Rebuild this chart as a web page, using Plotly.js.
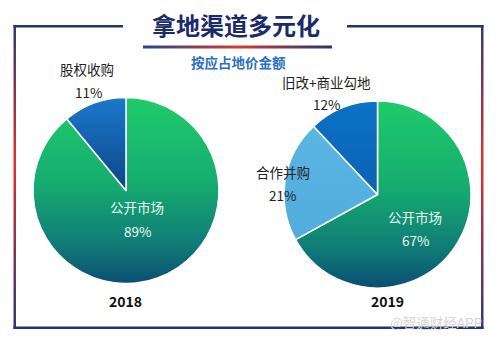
<!DOCTYPE html>
<html><head><meta charset="utf-8">
<script src="https://cdn.plot.ly/plotly-3.0.1.min.js"></script>
<style>html,body{margin:0;padding:0;background:#fff;overflow:hidden}</style></head>
<body>
<div id="chart" style="width:498px;height:341px"></div>
<script>
// ---- data ----
const labels2018 = ['公开市场', '股权收购'];
const values2018 = [89, 11];
const labels2019 = ['公开市场', '合作并购', '旧改+商业勾地'];
const values2019 = [67, 21, 12];
const yearLabels = ['2018', '2019'];
const titleText = '拿地渠道多元化';
const subtitleText = '按应占地价金额';
const watermarkText = '@智通财经APP';

// ---- helpers (layout only) ----
const W = 498, H = 341;
const px = x => x / W;
const py = y => 1 - y / H;
const FONT = '"Noto Sans CJK SC", "Noto Sans", sans-serif';

function pct(v, arr) {
  const tot = arr.reduce((a, b) => a + b, 0);
  return Math.round(v / tot * 100) + '%';
}

const pie2018 = {
  type: 'pie', labels: labels2018, values: values2018, sort: false,
  direction: 'clockwise', rotation: 0, textinfo: 'none', hoverinfo: 'none',
  marker: {colors: ['#17a872', '#1565b0'], line: {color: '#ffffff', width: 1.5}},
  domain: {x: [px(33), px(219)], y: [py(284), py(97)]}, showlegend: false
};
const pie2019 = {
  type: 'pie', labels: labels2019, values: values2019, sort: false,
  direction: 'clockwise', rotation: 0, textinfo: 'none', hoverinfo: 'none',
  marker: {colors: ['#17a872', '#5ab4e2', '#0a70c4'], line: {color: '#ffffff', width: 1.5}},
  domain: {x: [px(284), px(471)], y: [py(288), py(101)]}, showlegend: false
};

function ann(x, y, text, size, color, bold) {
  return {x: px(x), y: py(y), xref: 'paper', yref: 'paper', text: bold ? '<b>' + text + '</b>' : text,
    showarrow: false, xanchor: 'center', yanchor: 'middle',
    font: {family: FONT, size: size, color: color}};
}

const annotations = [
  ann(236, 24, titleText, 24, '#1b2a6b', true),
  ann(238, 62, subtitleText, 13.5, '#2a6fc0', true),
  // 2018
  ann(87, 69, labels2018[1], 13.5, '#222222'),
  ann(88, 92, pct(values2018[1], values2018), 13.5, '#222222'),
  ann(137, 207, labels2018[0], 13.5, '#eafaf0'),
  ann(137, 231, pct(values2018[0], values2018), 13.5, '#eafaf0'),
  ann(125, 301, yearLabels[0], 14, '#111111', true),
  // 2019
  ann(326, 82, labels2019[2], 13.5, '#222222'),
  ann(326, 104, pct(values2019[2], values2019), 13.5, '#222222'),
  ann(283, 172, labels2019[1], 13.5, '#222222'),
  ann(282, 195, pct(values2019[1], values2019), 13.5, '#222222'),
  ann(415, 217, labels2019[0], 13.5, '#eafaf0'),
  ann(415, 240, pct(values2019[0], values2019), 13.5, '#eafaf0'),
  ann(387, 301, yearLabels[1], 14, '#111111', true),
  ann(436, 322, watermarkText, 13.5, '#d4d4d4')
];

function rect(x0, y0, x1, y1, color) {
  return {type: 'rect', xref: 'paper', yref: 'paper', x0: px(x0), x1: px(x1), y0: py(y1), y1: py(y0),
    fillcolor: color, line: {width: 0}, layer: 'below'};
}
const shapes = [
  rect(13.5, 25, 16, 329, '#8a2a5a'),    // 0 left border
  rect(481, 25, 483.5, 329, '#8a2a5a'),  // 1 right border
  rect(13.5, 25, 123, 27.5, '#25356e'),  // 2 top-left
  rect(347, 25, 483.5, 27.5, '#25356e'), // 3 top-right
  rect(13.5, 326.5, 483.5, 329, '#25356e'), // 4 bottom
  rect(143, 45.5, 332, 48.5, '#8a2a5a')  // 5 underline
];

const layout = {
  width: W, height: H, margin: {l: 0, r: 0, t: 0, b: 0},
  paper_bgcolor: '#ffffff', plot_bgcolor: '#ffffff',
  annotations: annotations, shapes: shapes, showlegend: false
};

Plotly.newPlot('chart', [pie2018, pie2019], layout, {staticPlot: true, displayModeBar: false}).then(gd => {
  const NS = 'http://www.w3.org/2000/svg';
  const svg = gd.querySelector('svg.main-svg');
  const defs = document.createElementNS(NS, 'defs');
  function grad(id, vertical, stops) {
    const g = document.createElementNS(NS, 'linearGradient');
    g.setAttribute('id', id);
    g.setAttribute('x1', '0'); g.setAttribute('y1', '0');
    g.setAttribute('x2', vertical ? '0' : '1'); g.setAttribute('y2', vertical ? '1' : '0');
    stops.forEach(s => {
      const st = document.createElementNS(NS, 'stop');
      st.setAttribute('offset', s[0]); st.setAttribute('stop-color', s[1]);
      g.appendChild(st);
    });
    defs.appendChild(g);
  }
  grad('gGreen', true, [[0, '#1fcb6a'], [0.45, '#16ad70'], [0.8, '#0f7a76'], [1, '#0b4d74']]);
  grad('gBlue18', true, [[0, '#1b78cc'], [1, '#0c4688']]);
  grad('gBlue19', true, [[0, '#0b72c6'], [1, '#0a62b0']]);
  grad('gLight', true, [[0, '#5cb6e4'], [1, '#52acdc']]);
  grad('gSide', true, [[0, '#2a3a78'], [0.45, '#e8302a'], [1, '#2a3a78']]);
  grad('gLine', false, [[0, '#1e4a86'], [0.5, '#d83a2c'], [1, '#1e3a70']]);
  svg.insertBefore(defs, svg.firstChild);

  const fills = [['gGreen', 'gBlue18'], ['gGreen', 'gLight', 'gBlue19']];
  const traces = gd.querySelectorAll('.pielayer .trace');
  traces.forEach((t, i) => {
    t.querySelectorAll('g.slice path.surface').forEach((p, j) => {
      if (fills[i] && fills[i][j]) p.style.fill = 'url(#' + fills[i][j] + ')';
    });
  });
  const shapeFills = {0: 'gSide', 1: 'gSide', 5: 'gLine'};
  gd.querySelectorAll('.shapelayer path').forEach(p => {
    const idx = p.getAttribute('data-index');
    if (shapeFills[idx]) p.style.fill = 'url(#' + shapeFills[idx] + ')';
  });
});
</script>
</body></html>
